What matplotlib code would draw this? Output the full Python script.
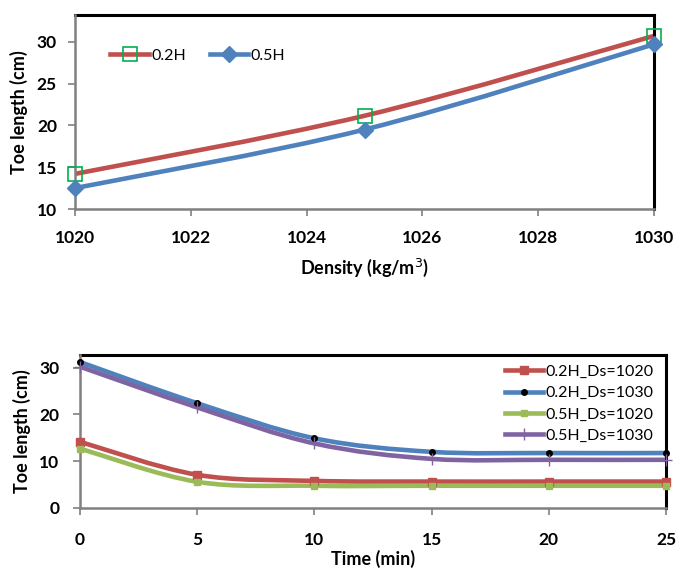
import matplotlib
matplotlib.use("Agg")
import matplotlib.pyplot as plt
from matplotlib.path import Path
from matplotlib.patches import PathPatch
from matplotlib.lines import Line2D
import numpy as np

plt.rcParams['font.family'] = ['Lato', 'DejaVu Sans']

# ---- data: top chart ----
density = [1020, 1025, 1030]
toe_02H = [14.2, 21.15, 30.7]
toe_05H = [12.5, 19.5, 29.7]
top_xticks = [1020, 1022, 1024, 1026, 1028, 1030]
top_yticks = [10, 15, 20, 25, 30]

# ---- data: bottom chart ----
time_min = [0, 5, 10, 15, 20, 25]
toe_02H_1020 = [14.15, 7.1, 5.8, 5.65, 5.65, 5.65]
toe_02H_1030 = [31.2, 22.4, 14.9, 12.0, 11.75, 11.75]
toe_05H_1020 = [12.7, 5.6, 4.75, 4.75, 4.75, 4.75]
toe_05H_1030 = [30.2, 21.5, 13.8, 10.5, 10.3, 10.3]
bot_xticks = [0, 5, 10, 15, 20, 25]
bot_yticks = [0, 10, 20, 30]

RED = '#C0504D'
BLUE = '#4F81BD'
GREEN = '#9BBB59'
PURPLE = '#8064A2'
MGREEN = '#00B050'

TICK_FS = 12.5
LABEL_FS = 13
LW = 3.3


def smooth_line(ax, xs, ys, color, lw=LW, zorder=2):
    """Excel-like smoothed line: cubic Bezier through the points (Catmull-Rom)."""
    xs = np.asarray(xs, float)
    ys = np.asarray(ys, float)
    pts = ax.transData.transform(np.column_stack([xs, ys]))
    n = len(pts)
    verts = [pts[0]]
    codes = [Path.MOVETO]
    for i in range(n - 1):
        p0 = pts[i - 1] if i > 0 else pts[i]
        p1 = pts[i]
        p2 = pts[i + 1]
        p3 = pts[i + 2] if i + 2 < n else pts[i + 1]
        c1 = p1 + (p2 - p0) / 6.0
        c2 = p2 - (p3 - p1) / 6.0
        verts += [c1, c2, p2]
        codes += [Path.CURVE4] * 3
    path = Path(verts, codes)
    patch = PathPatch(path, facecolor='none', edgecolor=color, lw=lw,
                      zorder=zorder, capstyle='butt', joinstyle='round')
    patch.set_transform(matplotlib.transforms.IdentityTransform())
    ax.add_artist(patch)


def style_axes(ax):
    for s in ['top', 'right']:
        ax.spines[s].set_color('black')
        ax.spines[s].set_linewidth(2.2)
    for s in ['left', 'bottom']:
        ax.spines[s].set_color('#808080')
        ax.spines[s].set_linewidth(1.8)
        ax.spines[s].set_zorder(5)
    ax.tick_params(direction='out', length=5, width=1.2, color='#808080',
                   labelsize=TICK_FS, pad=4)
    for lab in ax.get_xticklabels() + ax.get_yticklabels():
        lab.set_fontweight('bold')


fig = plt.figure(figsize=(6.86, 5.70), dpi=100)

# ---------------- top chart ----------------
ax1 = fig.add_axes([75 / 686, 1 - 209 / 570, (654 - 75) / 686, (209 - 15) / 570])
ax1.set_xlim(1020, 1030)
ax1.set_ylim(10, 33.2)
ax1.set_xticks(top_xticks)
ax1.set_yticks(top_yticks)
ax1.set_xticklabels([str(v) for v in top_xticks])
ax1.set_yticklabels([str(v) for v in top_yticks])
style_axes(ax1)
ax1.tick_params(axis='x', pad=10)
ax1.tick_params(axis='y', pad=8)
ax1.set_xlabel('Density (kg/m$^3$)', fontsize=LABEL_FS, fontweight='bold', labelpad=8)
ax1.set_ylabel('Toe length (cm)', fontsize=LABEL_FS, fontweight='bold', labelpad=6)

fig.canvas.draw()
smooth_line(ax1, density, toe_02H, RED)
smooth_line(ax1, density, toe_05H, BLUE)
ax1.plot(density, toe_02H, linestyle='none', marker='s', markersize=10,
         markerfacecolor='none', markeredgecolor=MGREEN, markeredgewidth=1.2,
         clip_on=False, zorder=6)
ax1.plot(density, toe_05H, linestyle='none', marker='D', markersize=8,
         markerfacecolor=BLUE, markeredgecolor=BLUE, clip_on=False, zorder=6)

h1 = [Line2D([], [], color=RED, lw=LW, marker='s', markersize=10,
             markerfacecolor='none', markeredgecolor=MGREEN, markeredgewidth=1.2),
      Line2D([], [], color=BLUE, lw=LW, marker='D', markersize=8,
             markerfacecolor=BLUE, markeredgecolor=BLUE)]
ax1.legend(h1, ['0.2H', '0.5H'], loc='upper left', ncol=2, frameon=False,
           fontsize=11.5, handlelength=2.4, handletextpad=0.15,
           columnspacing=1.5, bbox_to_anchor=(0.05, 0.86), borderaxespad=0)

# ---------------- bottom chart ----------------
ax2 = fig.add_axes([80 / 686, 1 - 508 / 570, (666 - 80) / 686, (508 - 355) / 570])
ax2.set_xlim(0, 25)
ax2.set_ylim(0, 32.7)
ax2.set_xticks(bot_xticks)
ax2.set_yticks(bot_yticks)
ax2.set_xticklabels([str(v) for v in bot_xticks])
ax2.set_yticklabels([str(v) for v in bot_yticks])
style_axes(ax2)
ax2.tick_params(axis='x', pad=12)
ax2.tick_params(axis='y', pad=10)
ax2.set_xlabel('Time (min)', fontsize=LABEL_FS, fontweight='bold', va='top')
ax2.xaxis.set_label_coords(0.5, -(550 - 508) / 153)
ax2.set_ylabel('Toe length (cm)', fontsize=LABEL_FS, fontweight='bold', labelpad=6)

fig.canvas.draw()
series = [
    (toe_02H_1020, RED, dict(marker='s', markersize=6, markerfacecolor=RED, markeredgecolor=RED)),
    (toe_02H_1030, BLUE, dict(marker='o', markersize=4, markerfacecolor='black', markeredgecolor='black')),
    (toe_05H_1020, GREEN, dict(marker='s', markersize=5, markerfacecolor=GREEN, markeredgecolor=GREEN)),
    (toe_05H_1030, PURPLE, dict(marker='+', markersize=8, markeredgecolor=PURPLE, markeredgewidth=1.0)),
]
labels2 = ['0.2H_Ds=1020', '0.2H_Ds=1030', '0.5H_Ds=1020', '0.5H_Ds=1030']
handles2 = []
for ys, col, mk in series:
    smooth_line(ax2, time_min, ys, col)
    ax2.plot(time_min, ys, linestyle='none', clip_on=False, zorder=6, **mk)
    handles2.append(Line2D([], [], color=col, lw=LW, **mk))

ax2.legend(handles2, labels2, loc='upper right', frameon=False, fontsize=11.5,
           handlelength=2.4, handletextpad=0.15, labelspacing=0.45,
           bbox_to_anchor=(0.995, 1.0), borderaxespad=0.2)

fig.savefig('out.png', dpi=100)
